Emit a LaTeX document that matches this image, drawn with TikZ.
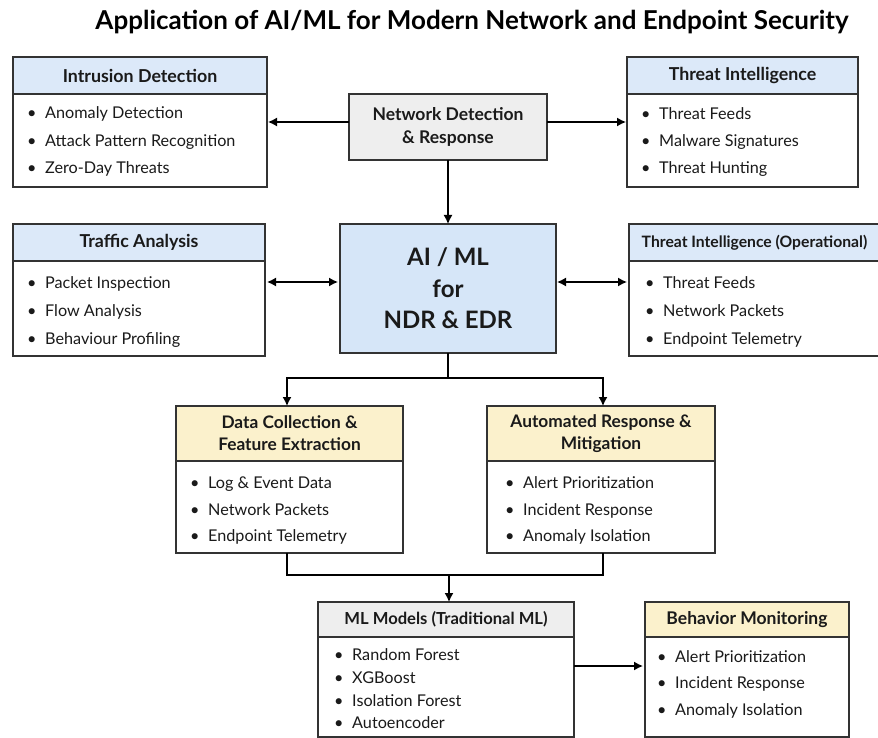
\documentclass[tikz,border=0pt]{standalone}
\usepackage{fontspec}
\setmainfont{Lato}
\usetikzlibrary{arrows.meta,calc}
\definecolor{hblue}{HTML}{DCE9F9}
\definecolor{aiblue}{HTML}{D6E6F8}
\definecolor{hgray}{HTML}{EEEEEE}
\definecolor{hyellow}{HTML}{FBF1CC}
\definecolor{edgec}{HTML}{333333}
\definecolor{txt}{HTML}{1A1A1A}
\newcommand\blt{\makebox[18pt][l]{\textbullet}}
\newcommand\listbox[9]{%
 \node[box, fill=white, minimum width={#4-#2}, minimum height={#5-#3}] (#1) at (#2,#3) {};
 \node[box, fill=#7, minimum width={#4-#2}, minimum height={#6-#3}, align=center, font=#9] (#1h) at (#2,#3) {#8};
}
\newcommand\hf[1]{\fontsize{#1}{22}\selectfont\bfseries}
\tikzset{
 box/.style={draw=edgec, line width=1.2pt, anchor=north west, inner sep=0pt, outer sep=0pt, text=txt},
 item/.style={anchor=base west, inner sep=0pt, yshift=-6pt, text=txt, font=\fontsize{16.2}{19}\selectfont},
 arr/.style={-{Latex[length=9pt,width=9pt]}, line width=1.4pt, draw=black},
 dbl/.style={{Latex[length=9pt,width=9pt]}-{Latex[length=9pt,width=9pt]}, line width=1.4pt, draw=black},
 ln/.style={line width=1.4pt, draw=black}
}
\begin{document}
\begin{tikzpicture}[x=1pt,y=-1pt]
\useasboundingbox (0,0) rectangle (878,738);
\fill[white] (0,0) rectangle (878,738);
\node[font=\fontsize{26}{30}\selectfont\bfseries, text=black] (title) at (472,22) {Application of AI/ML for Modern Network and Endpoint Security};

% Intrusion Detection
\listbox{id}{13}{57}{267}{187}{94}{hblue}{Intrusion Detection}{\hf{17.8}}
\node[item] (id1) at (27,113) {\blt Anomaly Detection};
\node[item] (id2) at (27,141) {\blt Attack Pattern Recognition};
\node[item] (id3) at (27,168) {\blt Zero-Day Threats};

% NDR
\node[box, fill=hgray, minimum width=198, minimum height=66, align=center, font=\fontsize{17.5}{23}\selectfont\bfseries] (ndr) at (349,94) {Network Detection\\\& Response};

% Threat Intelligence
\listbox{ti}{627}{57}{858}{187}{94}{hblue}{Threat Intelligence}{\hf{17.8}}
\node[item] (ti1) at (641,114) {\blt Threat Feeds};
\node[item] (ti2) at (641,141) {\blt Malware Signatures};
\node[item] (ti3) at (641,168) {\blt Threat Hunting};

% Traffic Analysis
\listbox{ta}{13}{224}{265}{356}{261}{hblue}{Traffic Analysis}{\hf{17.8}}
\node[item] (ta1) at (27,282) {\blt Packet Inspection};
\node[item] (ta2) at (27,310) {\blt Flow Analysis};
\node[item] (ta3) at (27,338) {\blt Behaviour Profiling};

% AI / ML
\node[box, fill=aiblue, minimum width=216, minimum height=129, align=center, font=\fontsize{24}{31.5}\selectfont\bfseries] (ai) at (340,224) {AI / ML\\for\\NDR \& EDR};

% Threat Intelligence (Operational)
\listbox{tio}{629}{224}{880}{356}{261}{hblue}{Threat Intelligence (Operational)}{\hf{15.7}}
\node[item] (tio1) at (645,282) {\blt Threat Feeds};
\node[item] (tio2) at (645,310) {\blt Network Packets};
\node[item] (tio3) at (645,338) {\blt Endpoint Telemetry};

% Data Collection
\listbox{dc}{176}{406}{403}{553}{461}{hyellow}{Data Collection \&\\Feature Extraction}{\hf{17.3}}
\node[item] (dc1) at (190,482) {\blt Log \& Event Data};
\node[item] (dc2) at (190,509) {\blt Network Packets};
\node[item] (dc3) at (190,535) {\blt Endpoint Telemetry};

% Automated Response
\listbox{ar}{487}{406}{715}{553}{461}{hyellow}{Automated Response \&\\Mitigation}{\hf{17.3}}
\node[item] (ar1) at (505,482) {\blt Alert Prioritization};
\node[item] (ar2) at (505,509) {\blt Incident Response};
\node[item] (ar3) at (505,535) {\blt Anomaly Isolation};

% ML Models
\listbox{ml}{318}{602}{574}{737}{637}{hgray}{ML Models (Traditional ML)}{\hf{16.6}}
\node[item] (ml1) at (334,654) {\blt Random Forest};
\node[item] (ml2) at (334,677) {\blt XGBoost};
\node[item] (ml3) at (334,700) {\blt Isolation Forest};
\node[item] (ml4) at (334,722) {\blt Autoencoder};

% Behavior Monitoring
\listbox{bm}{645}{602}{849}{737}{637}{hyellow}{Behavior Monitoring}{\hf{17.5}}
\node[item] (bm1) at (657,656) {\blt Alert Prioritization};
\node[item] (bm2) at (657,682) {\blt Incident Response};
\node[item] (bm3) at (657,709) {\blt Anomaly Isolation};

% connectors
\coordinate (ya) at (0,122);
\coordinate (yb) at (0,282);
\coordinate (yc) at (0,378);
\coordinate (ye) at (0,666);
\coordinate (mid) at (449,575);
\coordinate (cl) at (287,0);
\coordinate (cr) at (603,0);
\draw[arr] (ndr.west |- ya) -- ([xshift=1pt]id.east |- ya);
\draw[arr] (ndr.east |- ya) -- ([xshift=-1pt]ti.west |- ya);
\draw[arr] (ndr.south) -- (ai.north);
\draw[dbl] ([xshift=2pt]ta.east |- yb) -- ([xshift=-2pt]ai.west |- yb);
\draw[dbl] ([xshift=1pt]ai.east |- yb) -- ([xshift=-2pt]tio.west |- yb);
\draw[ln] (ai.south) -- (ai.south |- yc);
\draw[arr] (ai.south |- yc) -| (cl |- dc.north);
\draw[arr] (ai.south |- yc) -| (cr |- ar.north);
\draw[ln] (cl |- dc.south) |- (mid);
\draw[ln] (cr |- ar.south) |- (mid);
\draw[arr] (mid) -- (mid |- ml.north);
\draw[arr] (ml.east |- ye) -- ([xshift=-2pt]bm.west |- ye);
\end{tikzpicture}
\end{document}
